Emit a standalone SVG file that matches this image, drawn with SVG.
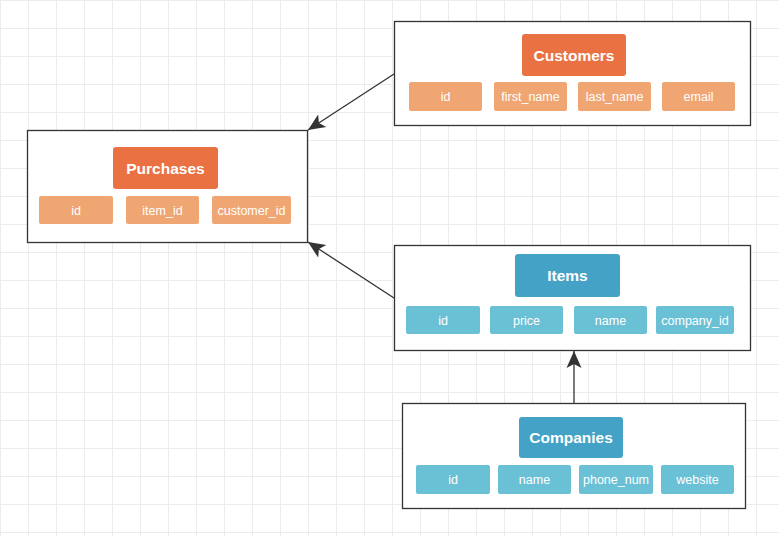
<svg xmlns="http://www.w3.org/2000/svg" width="779" height="536" viewBox="0 0 779 536">
<style>
.box{fill:#ffffff;stroke:#333333;stroke-width:1.3}
.to{fill:#E97142}
.fo{fill:#F0A673}
.tb{fill:#43A2C5}
.fb{fill:#6AC1D6}
.tt{font-family:"Liberation Sans",Arial,Helvetica,sans-serif;font-weight:bold;font-size:15.5px;fill:#ffffff;text-anchor:middle}
.ft{font-family:"Liberation Sans",Arial,Helvetica,sans-serif;font-size:12.5px;fill:#ffffff;text-anchor:middle}
.edge{fill:none;stroke:#333333;stroke-width:1.3}
</style>
<defs>
<pattern id="grid" width="28" height="28" patternUnits="userSpaceOnUse">
<path d="M0.5 0V28M0 0.5H28" stroke="#ececec" stroke-width="1" fill="none"/>
</pattern>
<marker id="arr" markerUnits="userSpaceOnUse" markerWidth="20" markerHeight="20" viewBox="-18 -9 20 18" refX="0" refY="0" orient="auto">
<path d="M0 0L-17 -7.5L-13 0L-17 7.5Z" fill="#333333"/>
</marker>
</defs>
<rect width="779" height="536" fill="#ffffff"/>
<rect width="779" height="536" fill="url(#grid)"/>
<g id="connectors">
<line class="edge" x1="394" y1="74" x2="308" y2="130" marker-end="url(#arr)"/>
<line class="edge" x1="394" y1="298" x2="308" y2="242" marker-end="url(#arr)"/>
<line class="edge" x1="574" y1="403" x2="574" y2="351" marker-end="url(#arr)"/>
</g>
<g id="customers">
<rect class="box" x="394.5" y="21.5" width="356" height="104"/>
<rect class="to" x="522" y="34" width="104" height="42" rx="3"/>
<text class="tt" x="574" y="60.5">Customers</text>
<rect class="fo" x="409" y="82" width="73" height="29" rx="2"/>
<text class="ft" x="445.5" y="101">id</text>
<rect class="fo" x="494" y="82" width="73" height="29" rx="2"/>
<text class="ft" x="530.5" y="101">first_name</text>
<rect class="fo" x="578" y="82" width="73" height="29" rx="2"/>
<text class="ft" x="614.5" y="101">last_name</text>
<rect class="fo" x="662" y="82" width="73" height="29" rx="2"/>
<text class="ft" x="698.5" y="101">email</text>
</g>
<g id="purchases">
<rect class="box" x="27.5" y="130.5" width="280" height="112"/>
<rect class="to" x="113" y="147" width="105" height="42" rx="3"/>
<text class="tt" x="165.5" y="173.5">Purchases</text>
<rect class="fo" x="39" y="196" width="74" height="28" rx="2"/>
<text class="ft" x="76" y="214.5">id</text>
<rect class="fo" x="126" y="196" width="73" height="28" rx="2"/>
<text class="ft" x="162.5" y="214.5">item_id</text>
<rect class="fo" x="212" y="196" width="79" height="28" rx="2"/>
<text class="ft" x="251.5" y="214.5">customer_id</text>
</g>
<g id="items">
<rect class="box" x="394.5" y="245.5" width="356" height="105"/>
<rect class="tb" x="515" y="254" width="105" height="43" rx="3"/>
<text class="tt" x="567.5" y="281">Items</text>
<rect class="fb" x="406" y="306" width="74" height="28" rx="2"/>
<text class="ft" x="443" y="324.5">id</text>
<rect class="fb" x="490" y="306" width="73" height="28" rx="2"/>
<text class="ft" x="526.5" y="324.5">price</text>
<rect class="fb" x="574" y="306" width="73" height="28" rx="2"/>
<text class="ft" x="610.5" y="324.5">name</text>
<rect class="fb" x="656" y="306" width="78" height="28" rx="2"/>
<text class="ft" x="695" y="324.5">company_id</text>
</g>
<g id="companies">
<rect class="box" x="402.5" y="403.5" width="343" height="105"/>
<rect class="tb" x="519" y="417" width="104" height="41" rx="3"/>
<text class="tt" x="571" y="443">Companies</text>
<rect class="fb" x="416" y="465" width="74" height="29" rx="2"/>
<text class="ft" x="453" y="484">id</text>
<rect class="fb" x="498" y="465" width="73" height="29" rx="2"/>
<text class="ft" x="534.5" y="484">name</text>
<rect class="fb" x="579" y="465" width="74" height="29" rx="2"/>
<text class="ft" x="616" y="484">phone_num</text>
<rect class="fb" x="661" y="465" width="73" height="29" rx="2"/>
<text class="ft" x="697.5" y="484">website</text>
</g>
</svg>
